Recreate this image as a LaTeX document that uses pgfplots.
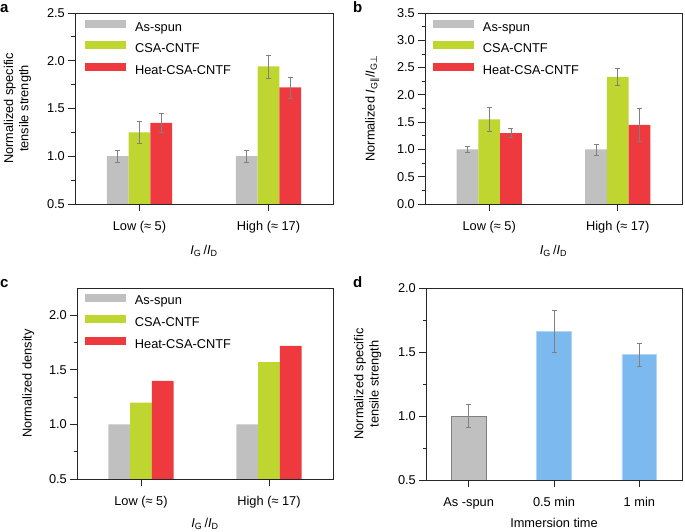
\documentclass[border=0pt]{standalone}
\usepackage{fontspec}
\setmainfont{Liberation Sans}
\newfontfamily\dejavu{DejaVu Sans}
\usepackage{pgfplots}
\pgfplotsset{compat=1.18}
\definecolor{cgray}{HTML}{C0C0C0}
\definecolor{cgreen}{HTML}{BFD631}
\definecolor{cred}{HTML}{EE3A3E}
\definecolor{cblue}{HTML}{7CB9EE}
\definecolor{errgray}{HTML}{808080}
\definecolor{axcol}{HTML}{262626}
\pgfplotsset{
  panel/.style={
    scale only axis,
    axis line style={line width=0.9pt, axcol},
    tick align=outside,
    xtick pos=bottom, ytick pos=left,
    major tick length=7pt, minor tick length=3.5pt,
    every tick/.style={line width=0.8pt, axcol},
    font=\fontsize{12.8}{15.3}\selectfont,
    /pgf/number format/assume math mode=true,
    yticklabel style={/pgf/number format/fixed, /pgf/number format/fixed zerofill, /pgf/number format/precision=1, inner sep=1pt, xshift=-2pt},
    xticklabel shift=7pt,
    minor y tick num=1,
    ylabel style={anchor=center, align=center, font=\fontsize{12.8}{15.3}\selectfont},
    ybar=0pt,
    legend cell align=left,
    legend image code/.code={\fill[##1, draw=none] (0pt,0.3pt) rectangle (41pt,8.3pt);},
    legend style={anchor=north west, draw=none, fill=none, inner sep=0pt, outer sep=0pt, row sep=7.3pt, column sep=9pt, nodes={inner sep=0pt, text height=9pt, text depth=3pt}},
    error bars/y dir=both, error bars/y explicit,
    error bars/error bar style={line width=0.7pt, errgray},
    error bars/error mark options={rotate=90, mark size=2.5pt, line width=0.7pt, errgray},
  },
}
\begin{document}
\begin{tikzpicture}
\useasboundingbox (0pt,0pt) rectangle (685pt,532pt);
% panel a
\begin{axis}[panel, at={(75pt,328pt)}, anchor=south west, width=258pt, height=191pt,
  xmin=-0.5, xmax=1.5, ymin=0.5, ymax=2.5, ytick={0.5,1,1.5,2,2.5},
  xtick={0,1}, xticklabels={Low (≈ 5), High (≈ 17)}, bar width=21.7pt,
  ylabel={Normalized specific\\tensile strength}, ylabel style={at={(axis description cs:-0.223,0.5)}},
  xlabel={\textit{I}\textsubscript{G}\,/\textit{I}\textsubscript{D}}, xlabel style={at={(axis description cs:0.5,-0.263)}, anchor=base},
  legend style={at={(axis description cs:0.039,0.964)}}]
\addplot[fill=cgray, draw=none] coordinates {(0,1.0) +- (0,0.065) (1,1.0) +- (0,0.065)};
\addplot[fill=cgreen, draw=none] coordinates {(0,1.25) +- (0,0.12) (1,1.94) +- (0,0.12)};
\addplot[fill=cred, draw=none] coordinates {(0,1.35) +- (0,0.10) (1,1.72) +- (0,0.11)};
\legend{As-spun, CSA-CNTF, Heat-CSA-CNTF}
\end{axis}
% panel b
\begin{axis}[panel, at={(425pt,328pt)}, anchor=south west, width=257pt, height=191pt,
  xmin=-0.5, xmax=1.5, ymin=0, ymax=3.5, ytick={0,0.5,...,3.5},
  xtick={0,1}, xticklabels={Low (≈ 5), High (≈ 17)}, bar width=21.7pt,
  ylabel={Normalized \textit{I}\textsubscript{G{\dejavu ∥}}/\textit{I}\textsubscript{G{\dejavu ⊥}}}, ylabel style={at={(axis description cs:-0.205,0.5)}},
  xlabel={\textit{I}\textsubscript{G}\,/\textit{I}\textsubscript{D}}, xlabel style={at={(axis description cs:0.5,-0.263)}, anchor=base},
  legend style={at={(axis description cs:0.031,0.964)}}]
\addplot[fill=cgray, draw=none] coordinates {(0,1.0) +- (0,0.06) (1,1.0) +- (0,0.10)};
\addplot[fill=cgreen, draw=none] coordinates {(0,1.55) +- (0,0.22) (1,2.33) +- (0,0.16)};
\addplot[fill=cred, draw=none] coordinates {(0,1.30) +- (0,0.085) (1,1.45) +- (0,0.30)};
\legend{As-spun, CSA-CNTF, Heat-CSA-CNTF}
\end{axis}
% panel c
\begin{axis}[panel, at={(77pt,53pt)}, anchor=south west, width=256pt, height=191pt,
  xmin=-0.5, xmax=1.5, ymin=0.5, ymax=2.25, ytick={0.5,1,1.5,2},
  xtick={0,1}, xticklabels={Low (≈ 5), High (≈ 17)}, bar width=21.7pt,
  ylabel={Normalized density}, ylabel style={at={(axis description cs:-0.19,0.5)}},
  xlabel={\textit{I}\textsubscript{G}\,/\textit{I}\textsubscript{D}}, xlabel style={at={(axis description cs:0.5,-0.253)}, anchor=base},
  legend style={at={(axis description cs:0.031,0.971)}}]
\addplot[fill=cgray, draw=none] coordinates {(0,1.0) (1,1.0)};
\addplot[fill=cgreen, draw=none] coordinates {(0,1.20) (1,1.57)};
\addplot[fill=cred, draw=none] coordinates {(0,1.40) (1,1.72)};
\legend{As-spun, CSA-CNTF, Heat-CSA-CNTF}
\end{axis}
% panel d
\begin{axis}[panel, at={(426pt,52pt)}, anchor=south west, width=256pt, height=192pt,
  xmin=-0.5, xmax=2.5, ymin=0.5, ymax=2.0, ytick={0.5,1,1.5,2},
  xtick={0,1,2}, xticklabels={As -spun, 0.5 min, 1 min}, bar width=34.7pt,
  ylabel={Normalized specific\\tensile strength}, ylabel style={at={(axis description cs:-0.228,0.5)}},
  xlabel={Immersion time}, xlabel style={at={(axis description cs:0.5,-0.25)}, anchor=base}]
\addplot[fill=cgray, draw=errgray, line width=0.7pt, bar shift=0pt] coordinates {(0,1.0) +- (0,0.09)};
\addplot[fill=cblue, draw=cblue!60!white, line width=0.5pt, bar shift=0pt] coordinates {(1,1.66) +- (0,0.165) (2,1.48) +- (0,0.09)};
\end{axis}
\node[anchor=base west, inner sep=0pt, font=\bfseries\fontsize{15}{15}\selectfont] at (0pt,519pt) {a};
\node[anchor=base west, inner sep=0pt, font=\bfseries\fontsize{15}{15}\selectfont] at (353pt,519pt) {b};
\node[anchor=base west, inner sep=0pt, font=\bfseries\fontsize{15}{15}\selectfont] at (0pt,244pt) {c};
\node[anchor=base west, inner sep=0pt, font=\bfseries\fontsize{15}{15}\selectfont] at (353pt,244pt) {d};
\end{tikzpicture}
\end{document}
